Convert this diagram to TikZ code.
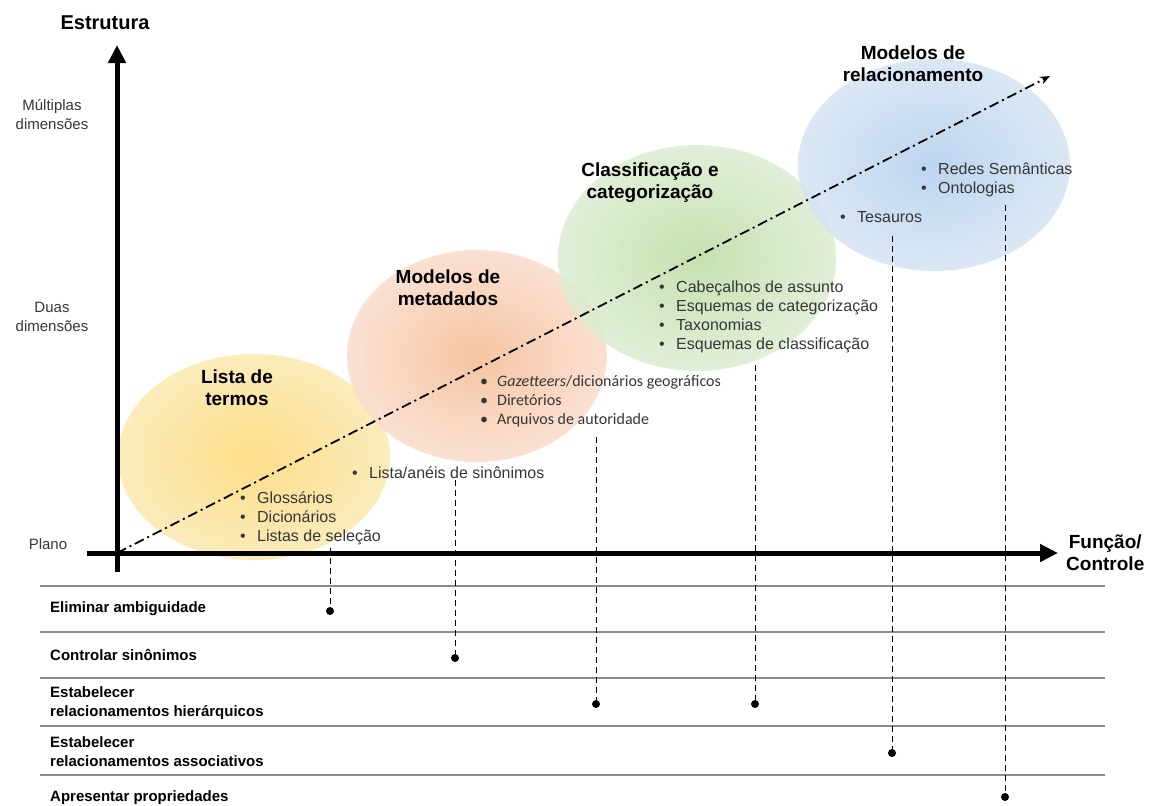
\documentclass[tikz,border=0pt]{standalone}
\usepackage{fontspec}
\setmainfont{Liberation Sans}
\newfontfamily\calibri{Carlito}
\usetikzlibrary{arrows.meta,positioning}

\definecolor{amareloA}{HTML}{FCD978}
\definecolor{amareloB}{HTML}{FAE9B2}
\definecolor{laranjaA}{HTML}{F5BC95}
\definecolor{laranjaB}{HTML}{F9DDCD}
\definecolor{verdeA}{HTML}{BEDCA6}
\definecolor{verdeB}{HTML}{DDEDD2}
\definecolor{azulA}{HTML}{B3D0EE}
\definecolor{azulB}{HTML}{D6E4F3}
\definecolor{cinza}{HTML}{8C8C8C}
\definecolor{texto}{HTML}{363636}

\newcommand\marca{\makebox[17pt][l]{•}}

\begin{document}
\begin{tikzpicture}[x=1pt, y=-1pt, >=Stealth,
  eixo/.style={line width=5pt, -{Triangle[length=18pt,width=17pt]}},
  titulo/.style={font=\fontsize{19}{22}\selectfont\bfseries, align=center, inner sep=0pt},
  itens/.style={font=\fontsize{16}{19}\selectfont, text=texto, align=left, anchor=west, inner sep=0pt},
  nivel/.style={font=\fontsize{15}{19}\selectfont, text=texto, align=center, inner sep=0pt},
  funcao/.style={font=\fontsize{15}{19}\selectfont\bfseries, align=left, anchor=west, inner sep=0pt},
  linha/.style={cinza, line width=1.5pt},
  guia/.style={dash pattern=on 6pt off 4pt, line width=1pt},
  ponto/.style={circle, fill, inner sep=0pt, minimum size=8pt},
  bola/.style={shading=radial, opacity=0.88}]

\useasboundingbox (0,0) rectangle (1152,806);

% grupos
\shade[bola, inner color=amareloA, outer color=amareloB] (254,457) ellipse [x radius=136pt, y radius=103pt];
\shade[bola, inner color=laranjaA, outer color=laranjaB] (477,356) ellipse [x radius=130pt, y radius=106pt];
\shade[bola, inner color=verdeA, outer color=verdeB] (697,258) ellipse [x radius=139pt, y radius=113pt];
\shade[bola, inner color=azulA, outer color=azulB] (934,165) ellipse [x radius=136pt, y radius=106pt];

% linhas da tabela
\foreach \y in {586,632,678,726,775}
  \draw[linha] (40,\y) -- (1105,\y);

% eixos
\coordinate (O) at (117,553);
\coordinate (topo) at (1050,76);
\draw[eixo] (117,572) -- (117,45);
\draw[eixo] (87,553) -- (1058,553);
\draw[line width=1.8pt, dash pattern=on 10pt off 4pt on 2pt off 4pt, -{Stealth[length=10pt,width=8pt]}] (O) -- (topo);

\node[titulo, font=\fontsize{20}{22}\selectfont\bfseries] (estrutura) at (105,23) {Estrutura};
\node[titulo, anchor=west] (funcao) at (1066,553) {Função/\\Controle};
\node[nivel] (multiplas) at (52,115) {Múltiplas\\dimensões};
\node[nivel] (duas) at (52,317) {Duas\\dimensões};
\node[nivel] (plano) at (48,544) {Plano};

% titulos dos grupos
\node[titulo] (termos) at (237,388) {Lista de\\termos};
\node[titulo] (metadados) at (448,288) {Modelos de\\metadados};
\node[titulo] (classif) at (650,183) {Classificação e\\categorização};
\node[titulo] (relac) at (913,64) {Modelos de\\relacionamento};

% exemplos
\node[itens] (lista) at (240,518) {\marca Glossários\\\marca Dicionários\\\marca Listas de seleção};
\node[itens] (sinon) at (352,473) {\marca Lista/anéis de sinônimos};
\node[itens, font=\fontsize{16}{19}\selectfont\calibri] (meta) at (480,401) {\marca\textit{Gazetteers}/dicionários geográficos\\\marca Diretórios\\\marca Arquivos de autoridade};
\node[itens] (cab) at (659,317) {\marca Cabeçalhos de assunto\\\marca Esquemas de categorização\\\marca Taxonomias\\\marca Esquemas de classificação};
\node[itens] (redes) at (921,180) {\marca Redes Semânticas\\\marca Ontologias};
\node[itens] (tesauros) at (840,217) {\marca Tesauros};

% funcoes
\node[funcao] (f1) at (50,609) {Eliminar ambiguidade};
\node[funcao] (f2) at (50,655) {Controlar sinônimos};
\node[funcao] (f3) at (50,703) {Estabelecer\\relacionamentos hierárquicos};
\node[funcao] (f4) at (50,752) {Estabelecer\\relacionamentos associativos};
\node[funcao] (f5) at (50,798) {Apresentar propriedades};

% ligacoes
\foreach \x/\ya/\yb/\n in {330/548/611/1, 455/480/658/2, 596/437/704/3,
                           755/365/704/4, 892/236/753/5, 1005/205/797/6} {
  \coordinate (g\n) at (\x,\ya);
  \node[ponto] (p\n) at (\x,\yb) {};
  \draw[guia] (g\n) -- (p\n);
}
\end{tikzpicture}
\end{document}
